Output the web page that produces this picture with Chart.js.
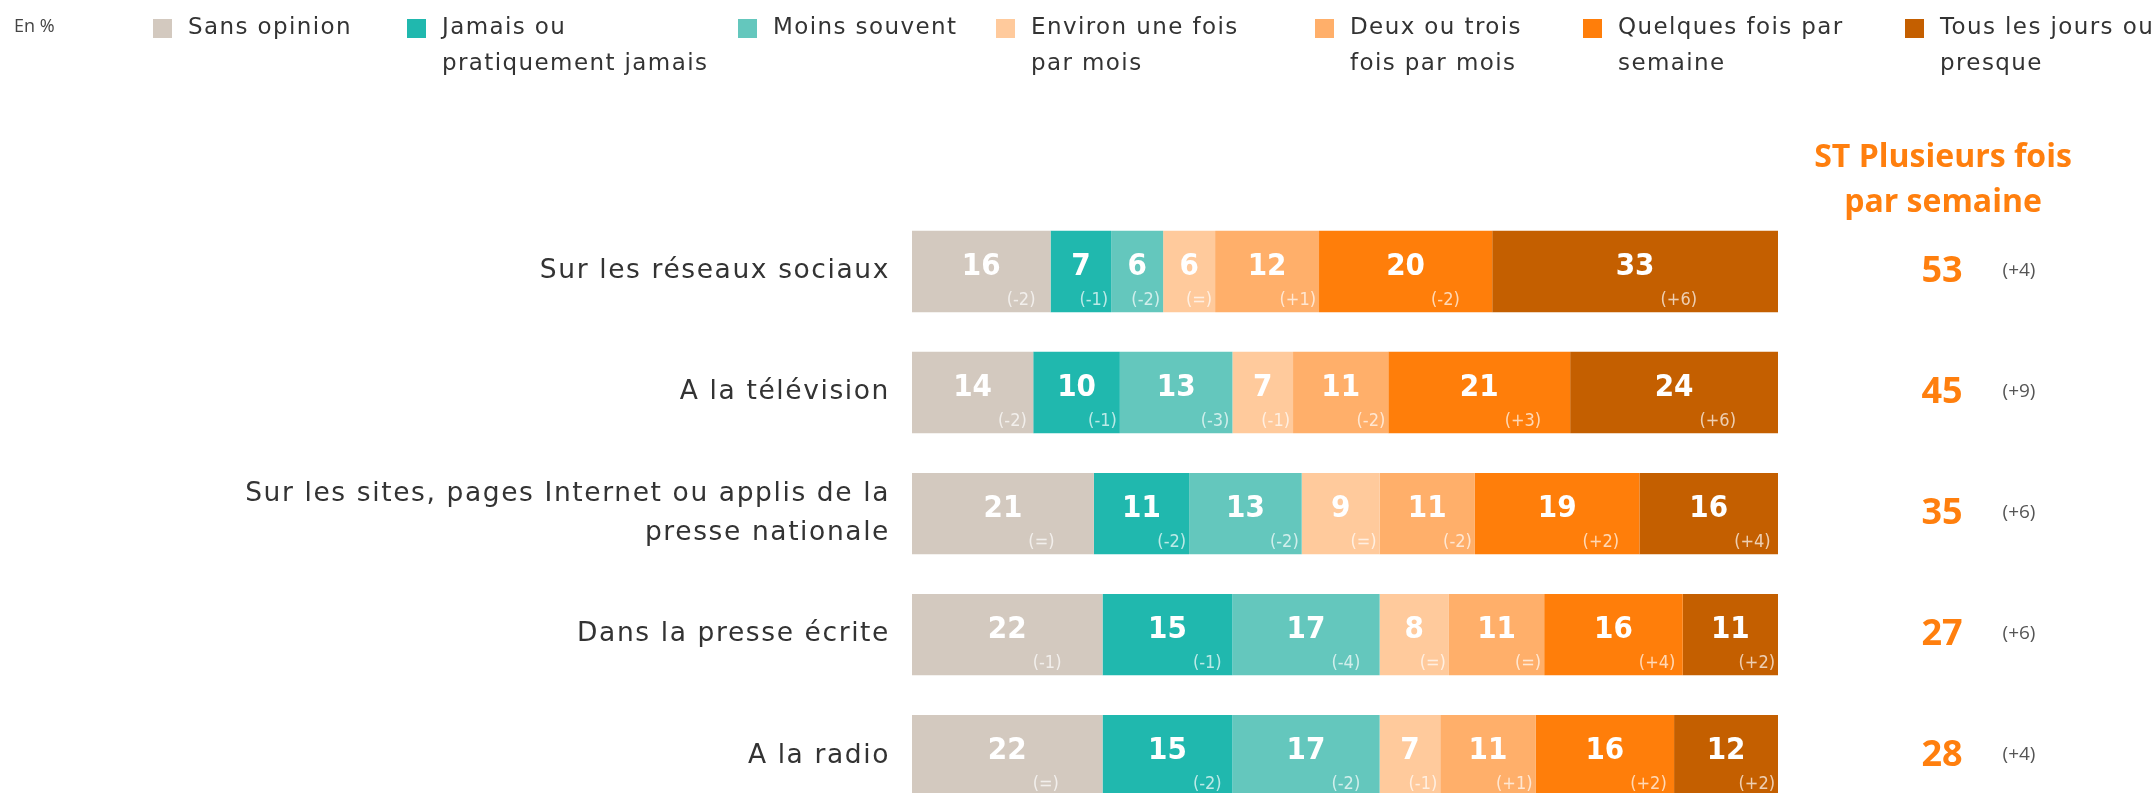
<!DOCTYPE html>
<html>
<head>
<meta charset="utf-8">
<script src="https://cdn.jsdelivr.net/npm/chart.js@4"></script>
<style>
html,body{margin:0;padding:0;background:#fff;overflow:hidden;width:2156px;height:793px;}
#wrap{position:absolute;left:0;top:0;width:2156px;height:850px;}
</style>
</head>
<body>
<div id="wrap"><canvas id="c"></canvas></div>
<script>
// ---- DATA ----
const categories = [
  'Sur les réseaux sociaux',
  'A la télévision',
  ['Sur les sites, pages Internet ou applis de la', 'presse nationale'],
  'Dans la presse écrite',
  'A la radio'
];
const seriesNames = [
  'Sans opinion',
  'Jamais ou pratiquement jamais',
  'Moins souvent',
  'Environ une fois par mois',
  'Deux ou trois fois par mois',
  'Quelques fois par semaine',
  'Tous les jours ou presque'
];
const legendLines = [
  ['Sans opinion'],
  ['Jamais ou', 'pratiquement jamais'],
  ['Moins souvent'],
  ['Environ une fois', 'par mois'],
  ['Deux ou trois', 'fois par mois'],
  ['Quelques fois par', 'semaine'],
  ['Tous les jours ou', 'presque']
];
const sansOpinion   = [16, 14, 21, 22, 22];
const jamais        = [7, 10, 11, 15, 15];
const moinsSouvent  = [6, 13, 13, 17, 17];
const uneFoisMois   = [6, 7, 9, 8, 7];
const deuxTroisMois = [12, 11, 11, 11, 11];
const quelquesSem   = [20, 21, 19, 16, 16];
const tousLesJours  = [33, 24, 16, 11, 12];

const chgSansOpinion   = ['(-2)', '(-2)', '(=)', '(-1)', '(=)'];
const chgJamais        = ['(-1)', '(-1)', '(-2)', '(-1)', '(-2)'];
const chgMoinsSouvent  = ['(-2)', '(-3)', '(-2)', '(-4)', '(-2)'];
const chgUneFoisMois   = ['(=)', '(-1)', '(=)', '(=)', '(-1)'];
const chgDeuxTroisMois = ['(+1)', '(-2)', '(-2)', '(=)', '(+1)'];
const chgQuelquesSem   = ['(-2)', '(+3)', '(+2)', '(+4)', '(+2)'];
const chgTousLesJours  = ['(+6)', '(+6)', '(+4)', '(+2)', '(+2)'];

const stTotals  = [53, 45, 35, 27, 28];
const stChanges = ['(+4)', '(+9)', '(+6)', '(+6)', '(+4)'];

// ---- STYLE ----
const colors = ['#D3C9BF', '#20B8AE', '#64C7BD', '#FFCA9C', '#FFAF6A', '#FF7E0A', '#C45F00'];
const ORANGE = '#FF7F0E';
const TEXT = '#333333';
const LABEL_FONT = '"DejaVu Sans", "Open Sans", sans-serif';
const HEAD_FONT = '"Open Sans", "Noto Sans", sans-serif';
const NUM_FONT = '"Liberation Sans Narrow", "DejaVu Sans Condensed", "DejaVu Sans", sans-serif';

const values = [sansOpinion, jamais, moinsSouvent, uneFoisMois, deuxTroisMois, quelquesSem, tousLesJours];
const changes = [chgSansOpinion, chgJamais, chgMoinsSouvent, chgUneFoisMois, chgDeuxTroisMois, chgQuelquesSem, chgTousLesJours];

const datasets = seriesNames.map((n, i) => ({
  label: n,
  data: values[i],
  backgroundColor: colors[i],
  borderWidth: 0,
  barPercentage: 0.672,
  categoryPercentage: 1
}));

const legendX = [153, 407, 738, 996, 1315, 1583, 1905];

const spacingPlugin = {
  id: 'spacing',
  beforeDraw(chart) { chart.ctx.letterSpacing = '1.6px'; },
  afterDraw(chart) { chart.ctx.letterSpacing = '0px'; }
};

const decorPlugin = {
  id: 'decor',
  afterDatasetsDraw(chart) {
    const ctx = chart.ctx;
    const area = chart.chartArea;
    ctx.save();
    ctx.letterSpacing = '0px';
    // segment labels
    chart.data.datasets.forEach((ds, di) => {
      const meta = chart.getDatasetMeta(di);
      meta.data.forEach((bar, i) => {
        const left = Math.min(bar.base, bar.x), right = Math.max(bar.base, bar.x);
        const w = right - left;
        const cx = (left + right) / 2;
        ctx.fillStyle = '#ffffff';
        ctx.font = 'bold 31px ' + NUM_FONT;
        ctx.textAlign = 'center';
        ctx.textBaseline = 'middle';
        ctx.fillText(String(ds.data[i]), cx, bar.y - 5);
        const nw = ctx.measureText(String(ds.data[i])).width;
        ctx.font = '18px ' + NUM_FONT;
        const ch = changes[di][i];
        const cw = ctx.measureText(ch).width;
        let off = Math.max(8, Math.min(nw / 2 + cw / 2 + 6, w / 2 - cw / 2 - 3));
        ctx.fillStyle = 'rgba(255,255,255,0.7)';
        ctx.textBaseline = 'alphabetic';
        ctx.fillText(ch, cx + off, bar.y + bar.height / 2 - 7);
      });
    });
    // ST totals
    const meta0 = chart.getDatasetMeta(0);
    meta0.data.forEach((bar, i) => {
      ctx.textAlign = 'center';
      ctx.textBaseline = 'middle';
      ctx.fillStyle = ORANGE;
      ctx.font = 'bold 36px ' + HEAD_FONT;
      ctx.fillText(String(stTotals[i]), area.right + 164, bar.y);
      ctx.fillStyle = '#555555';
      ctx.font = '19px ' + HEAD_FONT;
      ctx.fillText(stChanges[i], area.right + 241, bar.y - 1);
    });
    // header
    ctx.fillStyle = ORANGE;
    ctx.font = 'bold 32px ' + HEAD_FONT;
    ctx.textAlign = 'center';
    ctx.textBaseline = 'middle';
    ctx.fillText('ST Plusieurs fois', area.right + 165, 158);
    ctx.fillText('par semaine', area.right + 165, 203);
    // legend
    ctx.textAlign = 'left';
    ctx.textBaseline = 'middle';
    ctx.font = '18px ' + HEAD_FONT;
    ctx.fillStyle = '#444';
    ctx.fillText('En %', 14, 27);
    ctx.letterSpacing = '1.4px';
    ctx.font = '23px ' + LABEL_FONT;
    chart.data.datasets.forEach((ds, di) => {
      const x = legendX[di];
      ctx.fillStyle = ds.backgroundColor;
      ctx.fillRect(x, 19, 19, 19);
      ctx.fillStyle = TEXT;
      legendLines[di].forEach((ln, li) => ctx.fillText(ln, x + 35, 28 + li * 36));
    });
    ctx.restore();
  }
};

new Chart(document.getElementById('c'), {
  type: 'bar',
  data: { labels: categories, datasets },
  options: {
    indexAxis: 'y',
    responsive: true,
    maintainAspectRatio: false,
    animation: false,
    layout: { padding: { top: 211, right: 378, bottom: 15, left: 0 } },
    plugins: { legend: { display: false }, tooltip: { enabled: false } },
    scales: {
      x: { stacked: true, min: 0, max: 100, display: false },
      y: {
        stacked: true,
        grid: { display: false },
        border: { display: false },
        ticks: { color: TEXT, font: { family: LABEL_FONT, size: 26.5, lineHeight: 1.5 }, padding: 14 },
        afterFit(s) { s.width = 912; }
      }
    }
  },
  plugins: [spacingPlugin, decorPlugin]
});
</script>
</body>
</html>
